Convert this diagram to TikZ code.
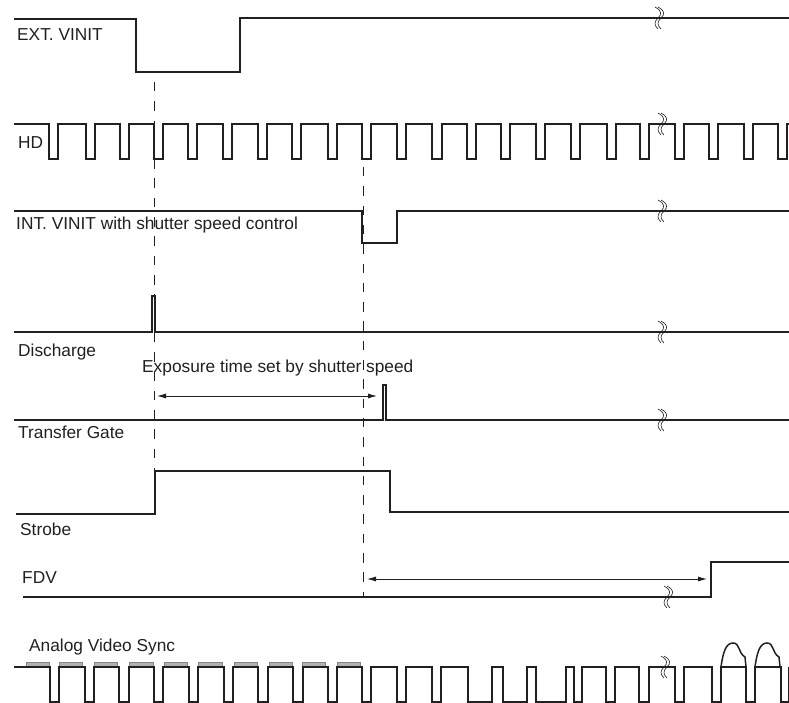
\documentclass[tikz,border=0pt]{standalone}
\usepackage{fontspec}
\setmainfont{Liberation Sans}
\usetikzlibrary{arrows.meta}
\definecolor{inkgray}{HTML}{231F20}
\tikzset{
  wave/.style={inkgray,line width=1.9pt},
  guide/.style={inkgray,line width=0.9pt,dash pattern=on 9.5pt off 9.8pt},
  span/.style={inkgray,line width=0.8pt,{Latex[length=9pt,width=5pt]}-{Latex[length=9pt,width=5pt]}},
  signame/.style={inkgray,anchor=base west,inner sep=0pt,font=\fontsize{17.3pt}{20pt}\selectfont},
  breakmark/.pic={
    \draw[inkgray,line width=0.6pt] (-1,-11) .. controls (6,-7) and (6,-4) .. (2,0) .. controls (-2,4) and (-2,7) .. (2,11);
    \draw[inkgray,line width=0.6pt] (-4,-11) .. controls (3,-7) and (3,-4) .. (-1,0) .. controls (-5,4) and (-5,7) .. (-1,11);
  }
}
\begin{document}
\begin{tikzpicture}[x=1pt,y=-1pt]
\useasboundingbox (0,0) rectangle (789,703);
% dashed guides
\coordinate (extfall) at (154,82);
\coordinate (extend) at (154,471);
\coordinate (intfall) at (363,167);
\coordinate (intend) at (363,597);
\draw[guide] (extfall) -- (extend);
\draw[guide] (intfall) -- (intend);
% sync plateaus go under the wave
\foreach \a/\b in {26/49,59/82,94/117,129/153,164/187,198/222,234/257,269/292,302/325,337/360} {
  \draw[inkgray!55,fill=inkgray!35,line width=0.6pt] (\a,662) rectangle (\b,667);
}
% signals
\draw[wave] (14,19) -- (136,19) -- (136,72) -- (240,72) -- (240,18) -- (789,18);
\draw[wave] (14,124) \foreach \a/\b in {49/58,86/95,120/129,154/163,188/197,223/232,258/267,292/301,328/337,362/371,397/406,432/442,467/476,501/510,536/545,571/580,607/616,640/649,675/684,709/718,744/753,778/787} { -- (\a,124) -- (\a,159) -- (\b,159) -- (\b,124) } -- (789,124);
\draw[wave] (14,211) -- (362,211) -- (362,243) -- (397,243) -- (397,211) -- (789,211);
\draw[wave] (14,332) -- (152,332) -- (152,296) -- (155,296) -- (155,332) -- (789,332);
\draw[wave] (14,420) -- (383,420) -- (383,385) -- (386,385) -- (386,420) -- (789,420);
\draw[wave] (16,514) -- (155,514) -- (155,471) -- (390,471) -- (390,512) -- (789,512);
\draw[wave] (23,597) -- (711,597) -- (711,562) -- (789,562);
\draw[wave] (14,667) \foreach \a/\b in {50/59,85/94,119/129,154/163,189/198,224/233,258/268,293/303,328/337,362/371,397/406,432/441,468/492,503/527,536/566,574/582,606/615,639/649,675/684,712/721,746/755,781/789} { -- (\a,667) -- (\a,702) -- (\b,702) -- (\b,667) };
% video humps
\foreach \x in {721,755} {
  \draw[wave] (\x,667) -- (\x+25,667);
  \draw[wave,line width=1.5pt] (\x,667) .. controls (\x+2,652) and (\x+5,643) .. (\x+12,643) .. controls (\x+19,643) and (\x+17,653) .. (\x+24,657) -- (\x+25,667);
}
% breaks in the time axis
\foreach \x/\y in {659/18,662/124,662/211,662/332,662/420,668/597,665/667} {
  \pic at (\x,\y) {breakmark};
}
% spans
\coordinate (expleft) at (157,396);
\coordinate (expright) at (377,396);
\coordinate (fdvleft) at (367,579);
\coordinate (fdvright) at (707,579);
\draw[span] (expleft) -- (expright);
\draw[span] (fdvleft) -- (fdvright);
% labels
\node[signame] (extlabel) at (17,41) {EXT. VINIT};
\node[signame] (hdlabel) at (18,149) {HD};
\node[signame] (intlabel) at (16,230) {INT. VINIT with shutter speed control};
\node[signame] (dislabel) at (18,356) {Discharge};
\node[signame] (explabel) at (142,372) {Exposure time set by shutter speed};
\node[signame] (tglabel) at (18,438) {Transfer Gate};
\node[signame] (strobelabel) at (20,535) {Strobe};
\node[signame] (fdvlabel) at (22,583) {FDV};
\node[signame] (synclabel) at (29,651) {Analog Video Sync};
\end{tikzpicture}
\end{document}
